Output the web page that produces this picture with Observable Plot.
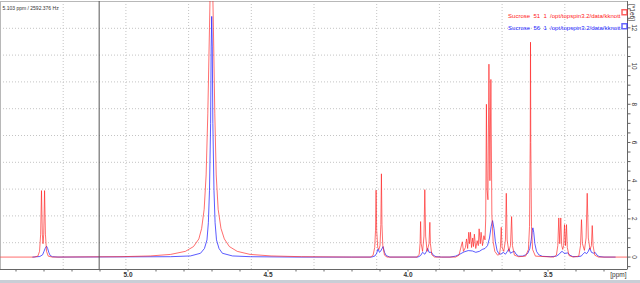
<!DOCTYPE html>
<html><head><meta charset="utf-8">
<script src="https://cdn.jsdelivr.net/npm/d3@7"></script>
<script src="https://cdn.jsdelivr.net/npm/@observablehq/plot@0.6"></script>
<style>
html,body{margin:0;padding:0;background:#fff;width:640px;height:283px;overflow:hidden}
#band{height:3px;background:#c9ced6}
svg{display:block}
svg text{white-space:pre}
</style></head><body><div id="chart"></div><div id="band"></div>
<script>
// Sucrose 51 (red) spectrum: chemical shift (ppm) and intensity (x1e6)
const redPpm = [5.455,5.335,5.322,5.316,5.312,5.309,5.306,5.3035,5.301,5.298,5.295,5.291,5.285,5.270,
  5.025,4.920,4.848,4.795,4.766,4.747,4.737,4.728,4.721,4.715,4.709,4.704,4.700,4.695,4.690,4.685,4.678,4.668,4.656,4.638,4.610,4.564,4.489,4.380,4.202,
  4.135,4.125,4.119,4.116,4.114,4.112,4.108,4.104,4.100,4.097,4.095,4.093,4.090,4.084,4.075,
  3.968,3.960,3.957,3.955,3.953,3.948,3.943,3.940,3.937,3.932,3.925,3.922,3.920,3.915,3.905,
  3.830,3.818,3.806,3.802,3.795,3.791,3.787,3.783,3.780,3.777,3.773,3.769,3.766,3.763,3.758,3.753,3.749,3.746,3.742,3.739,3.734,3.729,3.725,
  3.7225,3.720,3.7175,3.7145,3.711,3.7075,3.704,3.7005,3.696,3.690,3.680,
  3.673,3.670,3.667,3.664,3.658,3.652,3.649,3.646,3.640,3.634,3.630,3.627,3.620,3.605,
  3.580,3.570,3.566,3.5635,3.5625,3.5615,3.559,3.555,3.545,
  3.480,3.470,3.465,3.4615,3.458,3.4544,3.451,3.4475,3.4441,3.4411,3.4375,3.434,3.431,3.425,3.410,
  3.390,3.384,3.3804,3.377,3.370,3.364,3.360,3.356,3.350,3.345,3.342,3.339,3.333,3.320,3.216];
const redInt = [0,0,0.05,0.3,1.2,3.48,1.2,0.7,1.2,3.48,1.2,0.3,0.05,0,
  0.02,0.06,0.14,0.3,0.55,0.95,1.5,2.5,4.3,7.5,12,16,16,12,7.5,4.3,2.5,1.5,0.95,0.55,0.3,0.14,0.06,0.02,0,
  0,0.08,0.5,1.4,3.5,1.4,0.5,0.4,0.6,1.7,4.36,1.7,0.6,0.1,0,
  0,0.15,0.7,1.86,0.7,0.3,1.1,3.53,1.1,0.3,0.7,1.82,0.7,0.12,0,
  0,0.1,0.8,0.3,0.5,0.95,0.45,1.3,0.7,1.3,0.5,1.0,0.55,1.2,0.45,0.86,0.6,1.48,0.7,1.3,0.6,1.12,0.9,
  2.0,8.0,3.5,3.0,10.1,4.0,9.3,2.2,0.8,0.3,0.1,
  0.15,0.5,1.56,0.5,0.3,0.9,3.34,0.9,0.3,0.6,2.12,0.6,0.1,0.02,
  0.05,0.4,1.6,6,11.25,6,1.6,0.4,0.05,
  0,0.1,0.6,2.05,0.7,2.05,0.6,0.4,0.6,1.7,0.6,1.7,0.5,0.08,0,
  0.05,0.6,1.96,0.7,0.35,1.0,3.34,1.0,0.4,0.6,1.65,0.6,0.1,0,0];

// Sucrose 56 (blue) spectrum
const bluePpm = [5.340,5.315,5.305,5.300,5.296,5.291,5.287,5.283,5.278,5.270,5.250,
  4.848,4.777,4.741,4.727,4.718,4.713,4.709,4.705,4.703,4.701,4.699,4.697,4.693,4.689,4.684,4.675,4.663,4.627,4.563,4.400,
  4.130,4.118,4.112,4.107,4.102,4.098,4.089,4.084,4.078,4.065,
  3.965,3.955,3.948,3.940,3.934,3.930,3.925,3.916,3.910,3.900,3.880,
  3.850,3.830,3.815,3.800,3.785,3.770,3.758,3.745,3.735,3.725,3.716,3.709,3.703,3.698,3.693,3.688,3.682,3.676,
  3.668,3.660,3.652,3.645,3.640,3.634,3.625,3.620,3.614,3.605,3.590,
  3.580,3.572,3.565,3.560,3.556,3.554,3.551,3.547,3.541,3.533,3.520,3.490,
  3.470,3.460,3.454,3.449,3.443,3.436,3.429,3.422,3.412,3.395,
  3.382,3.375,3.369,3.362,3.356,3.351,3.345,3.337,3.332,3.326,3.318,3.300,3.260];
const blueInt = [0,0.03,0.12,0.3,0.45,0.57,0.45,0.25,0.08,0.02,0,
  0.02,0.06,0.2,0.45,0.9,1.8,3.5,7,11,12.6,11,7,3.5,1.8,0.9,0.45,0.2,0.06,0.02,0,
  0,0.06,0.2,0.43,0.25,0.3,0.55,0.25,0.08,0,
  0,0.08,0.25,0.15,0.3,0.46,0.25,0.25,0.1,0.02,0,
  0,0.05,0.15,0.27,0.34,0.32,0.25,0.3,0.4,0.45,0.6,1.0,1.6,1.91,1.5,0.8,0.35,0.18,
  0.15,0.25,0.15,0.3,0.43,0.2,0.28,0.3,0.15,0.05,0.05,
  0.12,0.2,0.45,0.9,1.4,1.53,1.3,0.7,0.3,0.12,0.04,0.02,
  0.05,0.15,0.26,0.3,0.2,0.2,0.22,0.1,0.03,0.02,
  0.05,0.15,0.25,0.18,0.3,0.48,0.25,0.2,0.25,0.12,0.03,0,0];

const legendNames = ["Sucrose  51  1  /opt/topspin3.2/data/kknott", "Sucrose  56  1  /opt/topspin3.2/data/kknott"];
const seriesColors = ["#ff2020", "#2424ff"];
const cursorPpm = 5.103;
const cursorLabel = "5.103 ppm / 2592.376 Hz";
const xTickLabels = [5.0, 4.5, 4.0, 3.5];
const xMinorTicks = [5.4,5.3,5.2,5.1,5.0,4.9,4.8,4.7,4.6,4.5,4.4,4.3,4.2,4.1,4.0,3.9,3.8,3.7,3.6,3.5,3.4,3.3];
const yTickLabels = [0, 2, 4, 6, 8, 10, 12];
const yMinorTicks = d3.range(-0.5, 13.01, 0.5);
const yUnit = "[*1e6]";
const xUnit = "[ppm]";
const xDom = [5.4554, 3.2161];
const yDom = [-0.65, 13.38];

const red = redPpm.map((p, i) => ({ppm: p, v: redInt[i]}));
const blue = bluePpm.map((p, i) => ({ppm: p, v: blueInt[i]}));
const gridX = d3.range(1, 10).map(k => xDom[0] + (xDom[1] - xDom[0]) * k / 10);
const gridY = d3.range(1, 10).map(k => yDom[0] + (yDom[1] - yDom[0]) * k / 10);

const chart = Plot.plot({
  width: 640, height: 280,
  marginLeft: 0, marginRight: 13, marginTop: 1, marginBottom: 11,
  x: {domain: xDom},
  y: {domain: yDom},
  style: {fontFamily: "Liberation Sans, Arial, sans-serif", background: "white", overflow: "visible"},
  marks: [
    Plot.ruleX(gridX, {stroke: "#c4c4c4", strokeDasharray: "1,2"}),
    Plot.ruleY(gridY, {stroke: "#c4c4c4", strokeDasharray: "1,2"}),
    Plot.frame({stroke: "#b8b8b8"}),
    Plot.line(blue, {x: "ppm", y: "v", stroke: seriesColors[1], strokeWidth: 1, strokeOpacity: 0.75, clip: true}),
    Plot.line(red, {x: "ppm", y: "v", stroke: seriesColors[0], strokeWidth: 1, strokeOpacity: 0.65, clip: true}),
    Plot.ruleX([cursorPpm], {stroke: "#555", strokeWidth: 1}),
    Plot.ruleX([xDom[1]], {stroke: "#666"}),
    Plot.ruleY([yDom[0]], {stroke: "#666"}),
    Plot.axisX({anchor: "bottom", ticks: xMinorTicks, tickSize: 2.5, tickFormat: () => "", label: null, stroke: "#666"}),
    Plot.text(xTickLabels, {x: d => d, text: d => d.toFixed(1), frameAnchor: "bottom", dy: 7, fontSize: 6.5, fill: "#333", fontWeight: "bold"}),
    Plot.axisY({anchor: "right", ticks: yMinorTicks, tickSize: 2.5, tickFormat: () => "", label: null, stroke: "#666"}),
    Plot.text(yTickLabels, {y: d => d, text: d => String(d), frameAnchor: "right", dx: 7, rotate: 90, fontSize: 6.5, fill: "#333", textAnchor: "middle"}),
    Plot.text([yUnit], {frameAnchor: "top-right", dx: 7, dy: 11, rotate: 90, fontSize: 6.5, fill: "#333", textAnchor: "middle"}),
    Plot.text([xUnit], {frameAnchor: "bottom-right", dx: -1, dy: 7, fontSize: 6.5, fill: "#333", textAnchor: "end"}),
    Plot.text([cursorLabel], {frameAnchor: "top-left", dx: 2, dy: 4.5, fontSize: 5, fill: "#333", textAnchor: "start"}),
    Plot.text([legendNames[0]], {frameAnchor: "top-right", dx: -7, dy: 12.3, fontSize: 6, fill: seriesColors[0], textAnchor: "end"}),
    Plot.text([legendNames[1]], {frameAnchor: "top-right", dx: -7, dy: 24.5, fontSize: 6, fill: seriesColors[1], textAnchor: "end"}),
    Plot.dot([0], {frameAnchor: "top-right", dx: -3, dy: 10.7, symbol: "square", r: 2.8, stroke: seriesColors[0], strokeOpacity: 0.7, fill: "white"}),
    Plot.dot([0], {frameAnchor: "top-right", dx: -3, dy: 24.7, symbol: "square", r: 2.8, stroke: seriesColors[1], strokeOpacity: 0.7, fill: "white"})
  ]
});
document.getElementById("chart").appendChild(chart);
</script>
</body></html>
